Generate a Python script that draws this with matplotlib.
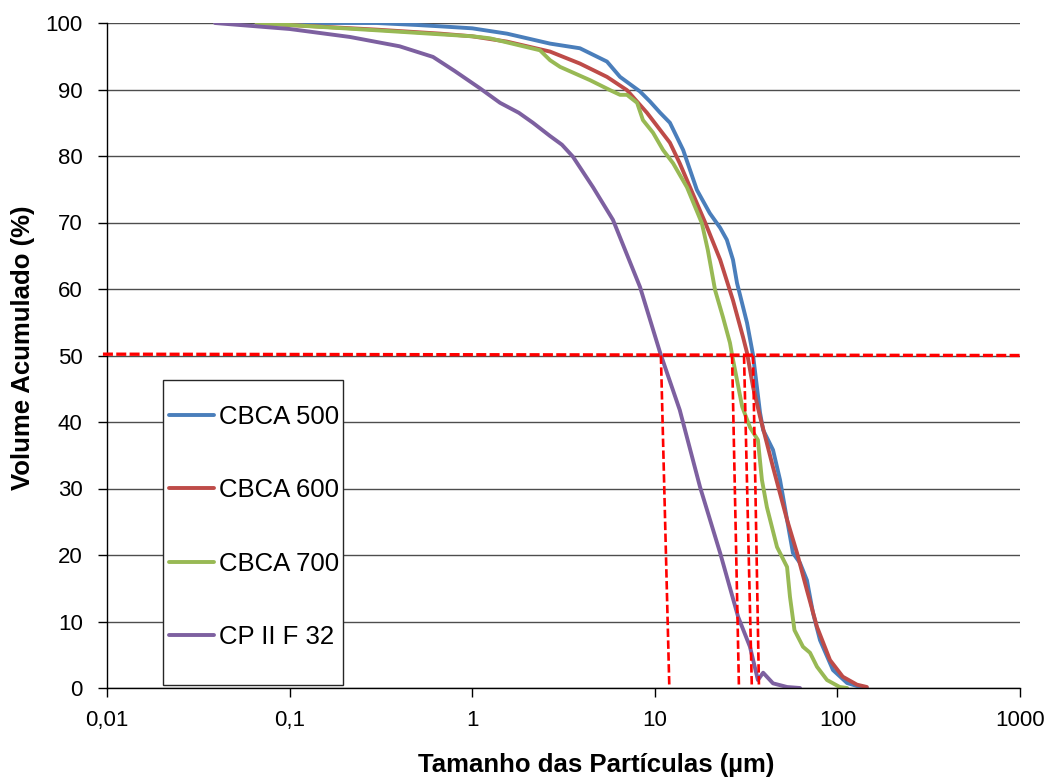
import matplotlib

matplotlib.use("Agg")
import matplotlib.pyplot as plt
from matplotlib.patches import Rectangle
from matplotlib.ticker import FixedLocator, NullLocator

plt.rcParams["font.family"] = ["Liberation Sans", "DejaVu Sans"]

# ── curve data (particle size in µm, cumulative volume in %) ────────────────
cbca500_x = [0.066, 0.3, 0.5, 0.667, 1.0, 1.55, 2.67, 3.89, 5.47, 6.45, 8.3, 9.41,
             10.7, 12.1, 14.3, 17.0, 20.0, 22.8, 24.8, 26.8, 28.2, 32.0, 34.5,
             37.7, 39.2, 44.4, 48.5, 53.0, 57.1, 62.4, 68.1, 73.5, 80.3, 94.6,
             113, 128, 145]
cbca500_y = [100, 100, 99.7, 99.5, 99.2, 98.4, 96.9, 96.2, 94.2, 91.9, 89.7, 88.2,
             86.5, 85.0, 80.9, 74.9, 71.4, 69.2, 67.4, 64.4, 60.9, 54.9, 50.1,
             41.4, 38.8, 35.8, 31.3, 25.3, 20.3, 18.8, 16.2, 11.3, 7.2, 2.7,
             0.75, 0.3, 0.0]

cbca600_x = [0.066, 0.1, 0.3, 0.667, 1.0, 1.55, 2.67, 3.89, 5.47, 7.04, 9.06, 12.1,
             13.7, 18.8, 22.8, 26.8, 30.4, 32.0, 34.5, 37.7, 44.4, 53.0, 60.1,
             68.1, 77.3, 91.1, 107, 128, 145]
cbca600_y = [100, 99.7, 99.0, 98.4, 98.0, 97.2, 95.7, 93.9, 91.9, 89.9, 86.5, 82.0,
             78.9, 70.1, 64.4, 58.3, 52.8, 50.4, 45.3, 40.8, 33.2, 25.3, 20.3,
             14.7, 9.2, 4.2, 1.7, 0.5, 0.15]

cbca700_x = [0.066, 0.1, 0.3, 0.667, 1.0, 1.25, 2.35, 2.67, 3.03, 4.42, 5.69, 6.45,
             7.04, 8.0, 8.61, 9.78, 11.1, 12.6, 15.0, 18.1, 19.5, 21.4, 23.6,
             25.8, 26.5, 28.2, 30.1, 33.2, 36.7, 38.6, 41.1, 46.7, 53.0, 55.0,
             58.2, 64.8, 70.8, 77.3, 87.7, 103, 113]
cbca700_y = [100, 99.7, 98.9, 98.3, 98.0, 97.7, 95.9, 94.4, 93.4, 91.4, 89.9, 89.2,
             89.2, 88.0, 85.4, 83.5, 80.9, 78.9, 75.3, 69.9, 65.9, 59.8, 55.8,
             51.9, 50.1, 46.3, 42.3, 39.2, 37.3, 31.3, 27.2, 21.2, 18.2, 13.7,
             8.7, 6.2, 5.3, 3.2, 1.2, 0.15, 0.0]

cp2f32_x = [0.039, 0.1, 0.214, 0.4, 0.61, 0.8, 1.1, 1.42, 1.8, 2.15, 2.67, 3.1,
            3.56, 4.59, 5.9, 8.3, 10.7, 13.7, 17.7, 22.8, 28.6, 33.2, 36.7, 39.2,
            44.4, 53, 62.4]
cp2f32_y = [100, 99.1, 97.9, 96.5, 94.9, 92.8, 90.2, 88.0, 86.5, 85.0, 83.0, 81.7,
            79.9, 75.3, 70.4, 60.3, 50.4, 41.8, 30.2, 20.3, 10.7, 6.2, 1.2, 2.3,
            0.7, 0.15, 0.0]

# D50 guide lines (hand-drawn in the original, slightly slanted)
d50_level = 50
d50_top = [10.8, 26.5, 30.8, 34.5]
d50_bottom = [12.0, 28.9, 34.0, 37.2]
d50_bottom_y = [0.5, 0.0, 0.0, 0.0]

x_ticks = [0.01, 0.1, 1, 10, 100, 1000]
x_ticklabels = ["0,01", "0,1", "1", "10", "100", "1000"]
y_ticks = list(range(0, 101, 10))

series = [
    ("CBCA 500", cbca500_x, cbca500_y, "#4A7EBB"),
    ("CBCA 600", cbca600_x, cbca600_y, "#BE4B48"),
    ("CBCA 700", cbca700_x, cbca700_y, "#98B954"),
    ("CP II F 32", cp2f32_x, cp2f32_y, "#7D60A0"),
]

W, H = 1048, 778
fig = plt.figure(figsize=(W / 100, H / 100), dpi=100)
ax = fig.add_axes([107 / W, 1 - 688 / H, 913 / W, 665 / H])

for label, xs, ys, color in series:
    ax.plot(xs, ys, color=color, lw=2.8, label=label,
            solid_joinstyle="round", solid_capstyle="round")

red = "#FF0000"
ax.plot([0.0095, 1000], [50.2, d50_level], color=red, lw=2.4,
        dashes=(3.0, 1.0), zorder=5, clip_on=False)
for xt, xb, yb in zip(d50_top, d50_bottom, d50_bottom_y):
    ax.plot([xt, xb], [d50_level, yb], color=red, lw=1.9, dashes=(3.2, 1.3),
            zorder=5)

ax.set_xscale("log")
ax.set_xlim(0.01, 1000)
ax.set_ylim(0, 100)
ax.xaxis.set_major_locator(FixedLocator(x_ticks))
ax.xaxis.set_minor_locator(NullLocator())
ax.set_xticklabels(x_ticklabels)
ax.set_yticks(y_ticks)
ax.tick_params(axis="both", direction="out", length=6.5, width=1, labelsize=16,
               colors="black")
ax.tick_params(axis="y", pad=11)
ax.tick_params(axis="x", pad=9)

ax.yaxis.grid(True, color="#4d4d4d", lw=1)
ax.set_axisbelow(True)
for side in ("top", "right"):
    ax.spines[side].set_visible(False)
for side in ("left", "bottom"):
    ax.spines[side].set_color("black")
    ax.spines[side].set_linewidth(1)

fig.text(23 / W, 1 - 348 / H, "Volume Acumulado (%)", fontsize=18.5,
         fontweight="bold", ha="center", va="center", rotation=90)
fig.text(596 / W, 1 - 765 / H, "Tamanho das Partículas (µm)", fontsize=18.5,
         fontweight="bold", ha="center", va="center")

# legend: entries without frame, box drawn separately (Excel-style padding)
leg = ax.legend(loc="center left", bbox_to_anchor=(62 / 913, 161 / 665),
                fontsize=18.5, frameon=False, handlelength=1.75,
                handletextpad=0.2, labelspacing=1.93, borderpad=0,
                borderaxespad=0)
ax.add_patch(Rectangle((56 / 913, 3 / 665), 180 / 913, 305 / 665,
                       transform=ax.transAxes, facecolor="white",
                       edgecolor="#262626", lw=1, zorder=4))
leg.set_zorder(6)

fig.savefig("out.png", dpi=100)
